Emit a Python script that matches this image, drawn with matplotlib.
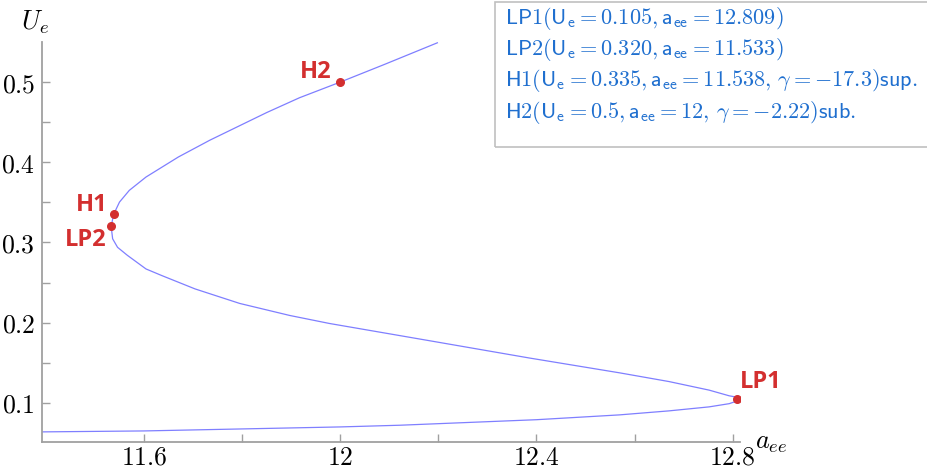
import matplotlib
matplotlib.use("Agg")
from matplotlib import pyplot as plt
from matplotlib.patches import Rectangle

plt.rcParams["mathtext.fontset"] = "cm"

# lower stable branch, from the left edge up to LP1
lower_a = [11.39, 11.6, 12.0, 12.121, 12.4, 12.569, 12.67, 12.752, 12.793, 12.805, 12.809]
lower_u = [0.0638, 0.065, 0.070, 0.0721, 0.079, 0.085, 0.090, 0.095, 0.099, 0.1015, 0.105]

# middle branch, LP1 back to LP2
middle_a = [12.809, 12.805, 12.793, 12.752, 12.67, 12.569, 12.385, 12.182, 11.978,
            11.897, 11.795, 11.704, 11.636, 11.604, 11.566, 11.546, 11.536, 11.533]
middle_u = [0.105, 0.1075, 0.1088, 0.1159, 0.1266, 0.1375, 0.156, 0.1775, 0.199,
            0.209, 0.224, 0.2421, 0.2588, 0.267, 0.284, 0.294, 0.3046, 0.320]

# upper branch, LP2 through H1 and H2
upper_a = [11.533, 11.538, 11.550, 11.570, 11.604, 11.67, 11.734, 11.85,
           11.917, 12.0, 12.09, 12.198]
upper_u = [0.320, 0.335, 0.3504, 0.365, 0.3816, 0.4066, 0.4275, 0.462,
           0.4805, 0.5, 0.522, 0.549]

point_names = ["LP1", "LP2", "H1", "H2"]
point_a = [12.809, 11.533, 11.538, 12.0]
point_u = [0.105, 0.320, 0.335, 0.5]

legend_lines = [
    r"$\mathsf{LP1(U_e = 0.105, a_{ee} = 12.809)}$",
    r"$\mathsf{LP2(U_e = 0.320, a_{ee} = 11.533)}$",
    r"$\mathsf{H1(U_e = 0.335, a_{ee} = 11.538,}\, \gamma \mathsf{= -17.3)sup.}$",
    r"$\mathsf{H2(U_e = 0.5, a_{ee} = 12,}\, \gamma \mathsf{= -2.22)sub.}$",
]

x_major = [11.6, 12.0, 12.4, 12.8]
x_major_labels = ["11.6", "12", "12.4", "12.8"]
x_minor = [11.8, 12.2, 12.6]
y_major = [0.1, 0.2, 0.3, 0.4, 0.5]
y_major_labels = ["0.1", "0.2", "0.3", "0.4", "0.5"]
y_minor = [0.15, 0.25, 0.35, 0.45]

CURVE = "#7f7fff"
RED = "#d32f2f"
BLUE = "#1f6fcf"
GREY = "#a0a0a0"

fig = plt.figure(figsize=(9.28, 4.69), dpi=100)
ax = fig.add_axes([42 / 928, 1 - 442 / 469, 698 / 928, 400 / 469])

for xs, ys in [(lower_a, lower_u), (middle_a, middle_u), (upper_a, upper_u)]:
    ax.plot(xs, ys, color=CURVE, linewidth=0.9, solid_joinstyle="round")

ax.scatter(point_a, point_u, s=30, color=RED, zorder=5)

# label offsets in points: dx, dy, alignment
offsets = {"LP1": (2, 12, "left"), "LP2": (-3, -10, "right"),
           "H1": (-4, 6.5, "right"), "H2": (-6.5, 7, "right")}
for name, a, u in zip(point_names, point_a, point_u):
    dx, dy, ha = offsets[name]
    ax.annotate(name, (a, u), xytext=(dx, dy), textcoords="offset points",
                ha=ha, va="center", color=RED, fontsize=17, fontweight="bold",
                family="Open Sans")

ax.set_xlim(11.392, 12.815)
ax.set_ylim(0.0512, 0.55)

for side in ["top", "right"]:
    ax.spines[side].set_visible(False)
for side in ["left", "bottom"]:
    ax.spines[side].set_color(GREY)
    ax.spines[side].set_linewidth(1.3)

ax.set_xticks(x_major)
ax.set_xticklabels([f"${t}$" for t in x_major_labels])
ax.set_xticks(x_minor, minor=True)
ax.set_yticks(y_major)
ax.set_yticklabels([f"${t}$" for t in y_major_labels])
ax.set_yticks(y_minor, minor=True)
ax.tick_params(which="both", direction="in", color=GREY, width=1, length=6,
               labelsize=18.5)
ax.tick_params(axis="x", pad=2)
ax.tick_params(axis="y", pad=5)

ax.text(1.022, 0.0, r"$a_{ee}$", transform=ax.transAxes, fontsize=19,
        ha="left", va="center")
ax.text(-0.03, 1.015, r"$U_e$", transform=ax.transAxes, fontsize=19,
        ha="left", va="bottom")

fig.patches.append(Rectangle((495 / 928, 1 - 147 / 469), 440 / 928, 145 / 469,
                             transform=fig.transFigure, fill=False,
                             edgecolor="#c0c0c0", linewidth=1.2))
for i, line in enumerate(legend_lines):
    fig.text(505 / 928, 1 - (18 + i * 31.5) / 469, line, color=BLUE,
             fontsize=16, ha="left", va="center")

fig.savefig("out.png", dpi=100)
